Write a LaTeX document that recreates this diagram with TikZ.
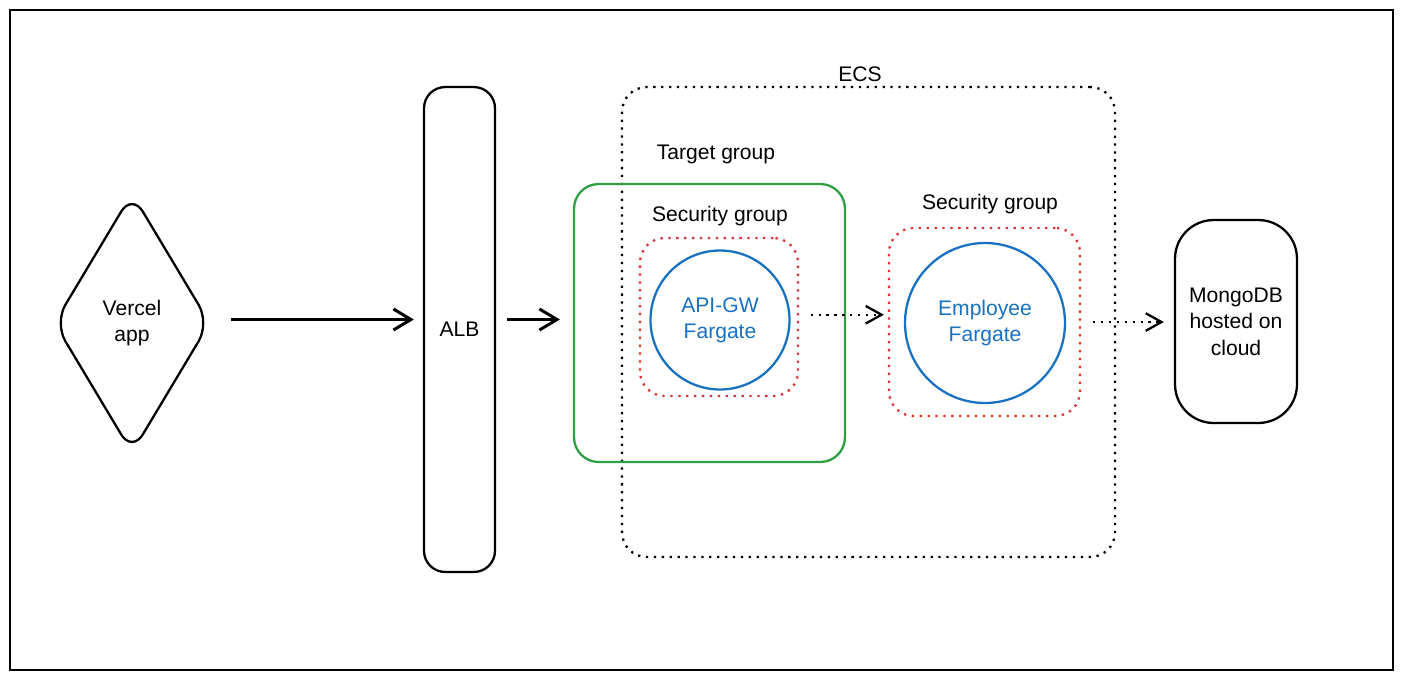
\documentclass[tikz,border=0pt]{standalone}
\usepackage{fontspec}
\setmainfont{Liberation Sans}
\usepackage{tikz}
\usetikzlibrary{
  arrows.meta,
  positioning,
  shapes.geometric
}
\definecolor{awsblue}{HTML}{1971C2}
\definecolor{awsgreen}{HTML}{2F9E44}
\definecolor{awsred}{HTML}{E03131}

\begin{document}
\begin{tikzpicture}[
    x=0.02cm, y=-0.02cm,
    font=\fontsize{12}{15}\selectfont,
    box/.style={draw, line width=1.3pt, rounded corners=12pt, inner sep=0pt,
                align=center},
    zone/.style={draw, rounded corners=14pt, inner sep=0pt},
    dots/.style={line width=1.3pt, dash pattern=on 1.3pt off 3.2pt},
    svc/.style={circle, draw=awsblue, line width=1.3pt, inner sep=0pt,
                text=awsblue, align=center},
    arr/.style={-{Straight Barb[length=10pt, width=12pt]}, line width=1.7pt},
    darr/.style={-{Straight Barb[length=9pt, width=10pt]}, dots},
  ]
  \useasboundingbox (0,0) rectangle (1403,681);

  % ---- Frame ----
  \draw[line width=1.2pt] (10,10) rectangle (1393,670);

  % ---- Client and load balancer ----
  \node[box, diamond, minimum width=3.12cm, minimum height=5.2cm]
    (vercel) at (132,323) {Vercel\\app};
  \node[box, minimum width=1.42cm, minimum height=9.7cm]
    (alb) at (459.5,329.5) {ALB};

  % ---- ECS cluster ----
  \node[zone, dots, minimum width=9.86cm, minimum height=9.4cm]
    (ecs) at (868.5,322) {};
  \node (ecslbl) at (860,74) {ECS};

  % ---- Target group ----
  \node[zone, draw=awsgreen, line width=1.3pt,
        minimum width=5.42cm, minimum height=5.56cm]
    (tg) at (709.5,323) {};
  \node (tglbl) at (716,154) {Target group};

  % ---- API gateway ----
  \node[zone, dots, draw=awsred, minimum width=3.16cm, minimum height=3.16cm]
    (sg1) at (719,317) {};
  \node (sg1lbl) at (720,216) {Security group};
  \node[svc, minimum size=2.78cm] (api) at (720,320) {API-GW\\Fargate};

  % ---- Employee service ----
  \node[zone, dots, draw=awsred, minimum width=3.82cm, minimum height=3.76cm]
    (sg2) at (984.5,322) {};
  \node (sg2lbl) at (990,204) {Security group};
  \node[svc, minimum size=3.2cm] (emp) at (985,323) {Employee\\Fargate};

  % ---- Database ----
  \node[box, rounded corners=22pt, minimum width=2.44cm, minimum height=4.06cm]
    (mongo) at (1236,321.5) {MongoDB\\hosted on\\cloud};

  % ---- Arrows ----
  \draw[arr, shorten <=0.4cm, shorten >=0.18cm]
    ([yshift=2pt]vercel.east) -- ([yshift=2pt]vercel.east -| alb.west);
  \draw[arr, shorten <=0.22cm, shorten >=0.26cm]
    ([yshift=2pt]alb.east |- tg.west) -- ([yshift=2pt]tg.west);
  \draw[darr, shorten <=0.4cm, shorten >=0.08cm]
    ([yshift=3pt]api.east) -- ([yshift=3pt]api.east -| sg2.west);
  \draw[darr, shorten <=0.24cm, shorten >=0.2cm]
    (sg2.east) -- (mongo.west |- sg2.east);

\end{tikzpicture}
\end{document}
